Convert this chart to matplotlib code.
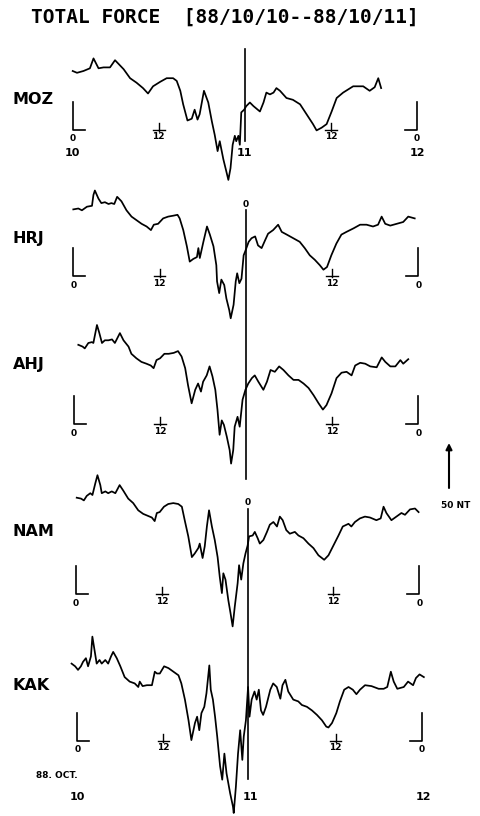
import matplotlib
matplotlib.use("Agg")
import matplotlib.pyplot as plt

W, H = 480, 816
NT_PER_PX = 50 / 45  # vertical scale: 50 nT per 45 pixels

stations = ["MOZ", "HRJ", "AHJ", "NAM", "KAK"]

# hours since 88/10/10 00h, total force deviation in nT from the station baseline
moz_hours = [0.0, 0.6, 1.5, 2.4, 2.9, 3.6, 4.3, 5.2, 5.9, 7.1, 8.0, 8.9, 9.8, 10.5, 11.2,
             12.2, 13.1, 14.0, 14.5, 15.0, 15.4, 16.0, 16.6, 17.0, 17.4, 17.7, 18.3, 18.9,
             19.4, 19.8, 20.2, 20.5, 21.0, 21.4, 21.7, 22.0, 22.3, 22.6, 22.8, 23.1, 23.3,
             23.5, 23.9, 24.2, 24.7, 25.2, 26.1, 26.6, 27.0, 27.5, 28.0, 28.4, 28.9, 29.8,
             30.7, 31.7, 32.6, 33.5, 34.0, 34.7, 35.4, 36.1, 36.8, 37.7, 39.1, 40.5, 41.4,
             42.1, 42.6, 43.0]
moz_nt = [65, 63, 65, 68, 79, 68, 69, 69, 77, 67, 57, 52, 46, 40, 48, 53, 57, 57, 54, 43,
          28, 10, 12, 22, 11, 17, 43, 30, 9, -6, -24, -13, -33, -46, -56, -43, -17, -7, -13,
          -7, -17, 19, 22, 26, 30, 26, 20, 30, 41, 39, 41, 46, 43, 35, 33, 28, 17, 6, -1, 2,
          6, 20, 35, 41, 48, 48, 43, 47, 57, 46]

hrj_hours = [0.0, 0.7, 1.2, 1.9, 2.6, 2.8, 3.0, 3.5, 3.9, 4.4, 4.9, 5.3, 5.7, 6.1, 6.7, 7.4,
             8.1, 8.8, 9.5, 10.2, 10.8, 11.2, 11.8, 12.5, 13.2, 13.9, 14.5, 14.8, 15.3, 15.8,
             16.2, 16.7, 17.2, 17.4, 17.6, 18.1, 18.6, 19.0, 19.5, 19.9, 20.0, 20.3, 20.6,
             21.0, 21.3, 21.7, 21.9, 22.3, 22.6, 22.8, 23.1, 23.4, 23.7, 23.9, 24.4, 24.8,
             25.3, 25.7, 26.2, 26.7, 27.1, 27.8, 28.5, 29.0, 29.7, 30.6, 31.5, 32.2, 32.9,
             33.6, 34.3, 34.8, 35.3, 35.9, 36.6, 37.3, 38.0, 39.0, 39.9, 40.8, 41.7, 42.4,
             42.9, 43.4, 44.1, 45.0, 45.9, 46.6, 47.5]
hrj_nt = [74, 75, 73, 77, 78, 90, 95, 86, 81, 82, 80, 81, 80, 88, 83, 73, 66, 62, 58, 55,
          51, 57, 58, 64, 66, 67, 68, 64, 51, 33, 16, 19, 21, 31, 20, 38, 55, 46, 33, 12, -6,
          -19, -4, -10, -25, -38, -47, -32, -6, 3, -8, -3, 23, 27, 38, 42, 44, 34, 31, 40, 47,
          51, 57, 49, 46, 42, 38, 31, 23, 18, 12, 7, 10, 23, 36, 46, 49, 53, 57, 57, 55, 57,
          66, 58, 56, 58, 60, 66, 64]

ahj_hours = [0.6, 1.2, 1.5, 2.0, 2.5, 2.7, 3.2, 3.5, 3.9, 4.3, 4.8, 5.3, 5.7, 6.4, 6.9, 7.6,
             8.0, 8.7, 9.4, 10.1, 10.7, 11.1, 11.5, 12.0, 12.6, 13.2, 13.9, 14.5, 15.0, 15.5,
             15.9, 16.4, 16.9, 17.3, 17.7, 18.0, 18.5, 18.9, 19.3, 19.7, 20.0, 20.3, 20.6,
             20.9, 21.3, 21.7, 21.9, 22.2, 22.4, 22.8, 23.1, 23.5, 23.9, 24.3, 24.8, 25.2,
             25.7, 26.4, 26.9, 27.4, 28.0, 28.6, 29.2, 29.9, 30.6, 31.3, 32.0, 32.7, 33.4,
             34.1, 34.7, 35.2, 35.9, 36.6, 37.3, 38.0, 38.7, 39.2, 39.9, 40.6, 41.3, 42.2,
             42.9, 43.4, 44.1, 44.8, 45.5, 45.9, 46.6]
ahj_nt = [88, 86, 84, 90, 91, 90, 110, 102, 90, 93, 93, 94, 90, 101, 93, 86, 78, 73, 69, 67,
          65, 62, 71, 73, 78, 78, 79, 81, 75, 62, 43, 23, 38, 45, 36, 47, 54, 64, 53, 38, 16,
          -12, 4, -1, -14, -29, -44, -29, -3, 8, -3, 27, 38, 45, 51, 54, 47, 38, 47, 60, 58,
          64, 60, 54, 49, 49, 45, 40, 32, 23, 16, 21, 34, 51, 57, 58, 54, 65, 68, 67, 64, 63,
          74, 69, 64, 64, 71, 67, 72]

nam_hours = [0.1, 0.7, 1.1, 1.5, 2.0, 2.3, 2.7, 3.0, 3.4, 3.6, 4.1, 4.5, 5.0, 5.5, 6.1, 6.6,
             7.3, 8.0, 8.7, 9.4, 10.0, 10.6, 11.0, 11.3, 11.7, 12.3, 12.9, 13.6, 14.3, 14.8,
             15.2, 15.7, 16.2, 16.6, 17.1, 17.3, 17.7, 18.0, 18.3, 18.6, 19.0, 19.4, 19.8,
             20.1, 20.4, 20.6, 20.9, 21.3, 21.6, 21.9, 22.2, 22.6, 22.8, 23.1, 23.4, 23.7,
             24.0, 24.2, 24.7, 25.0, 25.4, 25.7, 26.2, 26.7, 27.1, 27.6, 28.1, 28.5, 28.9,
             29.4, 29.9, 30.6, 31.1, 31.8, 32.5, 33.2, 33.9, 34.7, 35.3, 36.0, 36.7, 37.3,
             38.1, 38.5, 39.0, 39.7, 40.4, 41.1, 42.0, 42.6, 43.0, 43.4, 44.1, 44.8, 45.5,
             46.0, 46.7, 47.4, 47.9]
nam_nt = [107, 106, 104, 109, 112, 110, 123, 132, 121, 112, 114, 112, 114, 112, 121, 115,
          106, 101, 93, 89, 87, 85, 81, 90, 91, 97, 100, 101, 100, 97, 82, 64, 41, 45, 51, 56,
          40, 53, 75, 93, 75, 60, 41, 19, 1, 23, 16, -7, -21, -36, -14, 12, 32, 16, 34, 45,
          54, 64, 65, 69, 62, 56, 60, 69, 77, 80, 75, 86, 82, 71, 67, 69, 65, 62, 56, 51, 43,
          38, 43, 54, 65, 75, 78, 75, 80, 84, 86, 85, 82, 84, 97, 90, 82, 86, 90, 88, 94, 95,
          91]

kak_hours = [-0.8, -0.3, 0.1, 0.5, 0.8, 1.2, 1.5, 1.9, 2.1, 2.4, 2.7, 3.1, 3.4, 3.9, 4.3,
             4.7, 5.0, 5.5, 6.0, 6.6, 7.3, 8.0, 8.5, 8.7, 9.1, 9.7, 10.4, 10.8, 11.1, 11.5,
             12.1, 12.7, 13.4, 14.1, 14.5, 15.0, 15.5, 15.9, 16.4, 16.7, 17.0, 17.3, 17.7,
             18.0, 18.4, 18.6, 18.9, 19.2, 19.5, 19.9, 20.2, 20.5, 20.8, 21.3, 21.7, 21.8,
             22.1, 22.4, 22.7, 23.0, 23.2, 23.5, 23.8, 24.0, 24.3, 24.7, 25.0, 25.3, 25.6,
             25.9, 26.3, 26.9, 27.3, 27.8, 28.3, 28.6, 29.0, 29.4, 30.1, 30.8, 31.3, 32.0,
             32.7, 33.4, 34.1, 34.7, 35.0, 35.5, 36.1, 36.6, 37.2, 37.8, 38.4, 38.9, 39.4,
             40.1, 41.0, 42.0, 42.7, 43.2, 43.7, 44.1, 44.6, 45.5, 46.1, 46.8, 47.2, 47.7,
             48.3]
kak_nt = [86, 83, 79, 83, 88, 92, 83, 94, 116, 101, 86, 90, 86, 90, 86, 94, 99, 92, 83, 71,
          66, 64, 60, 66, 61, 62, 62, 77, 75, 75, 83, 81, 77, 73, 64, 46, 23, 1, 20, 27, 12,
          31, 38, 53, 84, 57, 46, 27, 5, -28, -43, -14, -36, -58, -73, -80, -51, -14, 12,
          -21, 5, 23, 60, 27, 46, 55, 46, 57, 34, 29, 38, 57, 64, 60, 47, 62, 68, 55, 46, 44,
          40, 38, 34, 29, 23, 16, 15, 20, 31, 44, 57, 60, 57, 52, 57, 62, 61, 58, 58, 60, 77,
          66, 58, 60, 66, 62, 70, 74, 71]

# jumps drawn at 00h of the 11th (nT, low/high) for MOZ, HRJ and NAM
jump_stations = ["MOZ", "HRJ", "NAM"]
jump_low = [-13, -226, -206]
jump_high = [89, 73, 95]

scale_nt = 50

hours = [moz_hours, hrj_hours, ahj_hours, nam_hours, kak_hours]
values = [moz_nt, hrj_nt, ahj_nt, nam_nt, kak_nt]

# panel placement in pixels: x of 00h on the 10th, x of 00h on the 12th, baseline y
x_start = [72.7, 73.3, 74.0, 76.0, 77.3]
x_end = [417.0, 418.3, 418.3, 419.3, 421.7]
base_y = [129.5, 276, 424, 594, 741]
label_y = [100, 239, 365, 532, 685]

fig = plt.figure(figsize=(4.8, 8.16), dpi=100)
fig.patch.set_facecolor("white")


def fx(x):
    return x / W


def fy(y):
    return 1 - y / H


def px_offset(px):
    # pixels -> points for annotate offsets
    return px * 72 / 100


small = dict(fontsize=6.5, fontweight="bold", family="DejaVu Sans", color="black")
lw = 1.25

axes = {}
for i, name in enumerate(stations):
    top, bottom = base_y[i] - 140, base_y[i] + 60
    ax = fig.add_axes([fx(x_start[i]), fy(bottom), (x_end[i] - x_start[i]) / W,
                       (bottom - top) / H])
    ax.set_xlim(0, 48)
    ax.set_ylim(-60 * NT_PER_PX, 140 * NT_PER_PX)
    ax.axis("off")
    ax.patch.set_alpha(0)
    axes[name] = ax

    px_per_h = (x_end[i] - x_start[i]) / 48
    tick_h = 12 / px_per_h
    mark_nt = 28 * NT_PER_PX

    ax.plot(hours[i], values[i], color="black", lw=lw, clip_on=False,
            solid_joinstyle="round")

    # baseline markers at both ends of the record
    ax.plot([0, 0, tick_h], [mark_nt, 0, 0], color="black", lw=1.2, clip_on=False)
    ax.plot([48, 48, 48 - tick_h], [mark_nt, 0, 0], color="black", lw=1.2, clip_on=False)

    # noon ticks
    for h in (12, 36):
        ax.plot([h, h], [-1 * NT_PER_PX, 7 * NT_PER_PX], color="black", lw=1.0,
                clip_on=False)
        ax.plot([h - 0.8, h + 0.8], [0, 0], color="black", lw=1.0, clip_on=False)
        ax.annotate("12", (h, 0), xytext=(0, -px_offset(7)), textcoords="offset points",
                    ha="center", va="center", annotation_clip=False, **small)

    for h in (0, 48):
        ax.annotate("0", (h, 0), xytext=(0, -px_offset(9)), textcoords="offset points",
                    ha="center", va="center", annotation_clip=False, **small)

    fig.text(fx(13), fy(label_y[i]), name, ha="left", va="center", fontsize=11.5,
             fontweight="bold", family="DejaVu Sans")

for name, lo, hi in zip(jump_stations, jump_low, jump_high):
    ax = axes[name]
    ax.plot([24, 24], [lo, hi], color="black", lw=1.2, clip_on=False)
    if name != "MOZ":
        ax.annotate("0", (24, hi), xytext=(0, px_offset(6)), textcoords="offset points",
                    ha="center", va="center", annotation_clip=False, **small)

# day labels under the first record
day = dict(fontsize=8, fontweight="bold", family="DejaVu Sans", color="black")
for h, lab in zip((0, 24, 48), ("10", "11", "12")):
    axes["MOZ"].annotate(lab, (h, 0), xytext=(0, -px_offset(23.5)),
                         textcoords="offset points", ha="center", va="center",
                         annotation_clip=False, **day)

# day labels under the last record
fig.text(fx(57), fy(775), "88. OCT.", ha="center", va="center", **small)
for x, lab in zip((77, 250, 423), ("10", "11", "12")):
    fig.text(fx(x), fy(797), lab, ha="center", va="center", **day)

# 50 nT scale arrow
nam_ax = axes["NAM"]
scale_h = (449 - x_start[3]) / ((x_end[3] - x_start[3]) / 48)
scale_low = (594 - 488) * NT_PER_PX
nam_ax.annotate("", xy=(scale_h, scale_low + scale_nt), xytext=(scale_h, scale_low),
                arrowprops=dict(arrowstyle="-|>", lw=1.5, color="black",
                                mutation_scale=9, shrinkA=0, shrinkB=0),
                annotation_clip=False)
fig.text(fx(456), fy(505), "50 NT", ha="center", va="center", **small)

fig.text(fx(225), fy(17), "TOTAL FORCE  [88/10/10--88/10/11]", ha="center", va="center",
         fontsize=14, fontweight="bold", family="DejaVu Sans Mono", color="black")

fig.savefig("out.png", dpi=100, facecolor="white")
